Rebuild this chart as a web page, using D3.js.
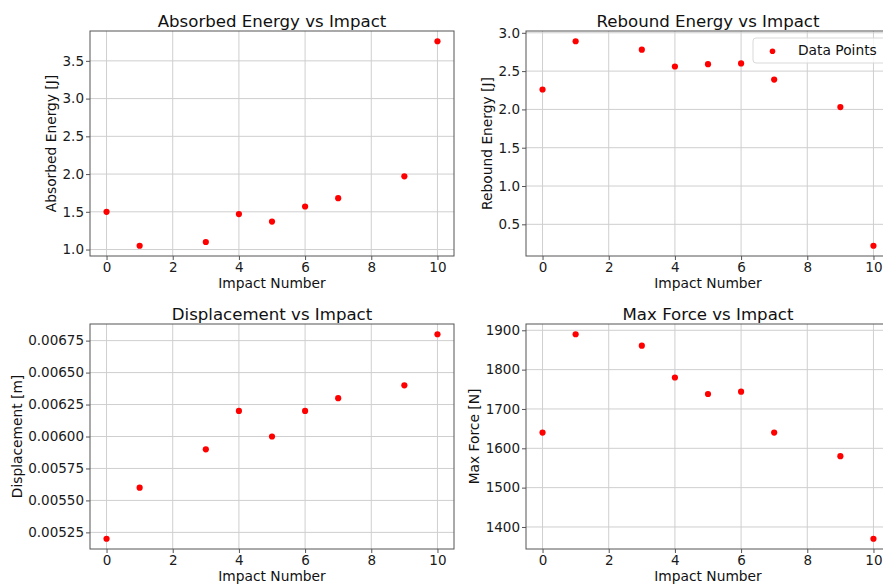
<!DOCTYPE html>
<html>
<head>
<meta charset="utf-8">
<script src="https://cdn.jsdelivr.net/npm/d3@7"></script>
<style>
  body { margin: 0; background: #fff; }
  svg { display: block; font-family: "DejaVu Sans", sans-serif; }
</style>
</head>
<body>
<svg id="chart" width="883" height="584"></svg>
<script>
// data
var impacts = [0, 1, 3, 4, 5, 6, 7, 9, 10];
var absorbedEnergy = [1.50, 1.05, 1.10, 1.47, 1.37, 1.57, 1.68, 1.97, 3.76];
var reboundEnergy = [2.26, 2.89, 2.78, 2.56, 2.59, 2.60, 2.39, 2.03, 0.22];
var displacement = [0.0052, 0.0056, 0.0059, 0.0062, 0.0060, 0.0062, 0.0063, 0.0064, 0.0068];
var maxForce = [1640, 1890, 1861, 1780, 1738, 1744, 1640, 1580, 1370];

var xTicks = [0, 2, 4, 6, 8, 10];
var absorbedTicks = [1.0, 1.5, 2.0, 2.5, 3.0, 3.5];
var reboundTicks = [0.5, 1.0, 1.5, 2.0, 2.5, 3.0];
var displacementTicks = [0.00525, 0.00550, 0.00575, 0.00600, 0.00625, 0.00650, 0.00675];
var forceTicks = [1400, 1500, 1600, 1700, 1800, 1900];

var panels = [
  {title: "Absorbed Energy vs Impact", ylabel: "Absorbed Energy [J]", values: absorbedEnergy, ticks: absorbedTicks, fmt: d3.format(".1f"), col: 0, row: 0},
  {title: "Rebound Energy vs Impact", ylabel: "Rebound Energy [J]", values: reboundEnergy, ticks: reboundTicks, fmt: d3.format(".1f"), col: 1, row: 0, legend: true},
  {title: "Displacement vs Impact", ylabel: "Displacement [m]", values: displacement, ticks: displacementTicks, fmt: d3.format(".5f"), col: 0, row: 1},
  {title: "Max Force vs Impact", ylabel: "Max Force [N]", values: maxForce, ticks: forceTicks, fmt: d3.format("d"), col: 1, row: 1}
];

var colX = [90, 526], rowY = [31, 324];
var w = 364, h = 225;
var tickFont = 13.5, labelFont = 13.8, titleFont = 16.6;

var svg = d3.select("#chart");

// matplotlib style 5% margins
function padded(ext) {
  var m = (ext[1] - ext[0]) * 0.05;
  return [ext[0] - m, ext[1] + m];
}

panels.forEach(function(p) {
  var g = svg.append("g")
    .attr("transform", "translate(" + colX[p.col] + "," + rowY[p.row] + ")");

  var x = d3.scaleLinear().domain(padded(d3.extent(impacts))).range([0, w]);
  var y = d3.scaleLinear().domain(padded(d3.extent(p.values))).range([h, 0]);

  // grid
  g.append("g").selectAll("line")
    .data(xTicks).enter().append("line")
      .attr("x1", function(d){ return x(d) }).attr("x2", function(d){ return x(d) })
      .attr("y1", 0).attr("y2", h)
      .attr("stroke", "#cfcfcf").attr("stroke-width", 1);
  g.append("g").selectAll("line")
    .data(p.ticks).enter().append("line")
      .attr("y1", function(d){ return y(d) }).attr("y2", function(d){ return y(d) })
      .attr("x1", 0).attr("x2", w)
      .attr("stroke", "#cfcfcf").attr("stroke-width", 1);

  // axes
  var xa = g.append("g")
    .attr("transform", "translate(0," + h + ")")
    .call(d3.axisBottom(x).tickValues(xTicks).tickSize(4).tickPadding(2).tickFormat(d3.format("d")));
  var ya = g.append("g")
    .call(d3.axisLeft(y).tickValues(p.ticks).tickSize(4).tickPadding(2).tickFormat(p.fmt));

  [xa, ya].forEach(function(a) {
    a.select(".domain").remove();
    a.selectAll(".tick line").attr("stroke", "#555");
    a.selectAll("text").attr("font-size", tickFont).attr("fill", "#1a1a1a")
      .attr("font-family", "DejaVu Sans");
  });

  // frame
  g.append("rect")
    .attr("width", w).attr("height", h)
    .attr("fill", "none").attr("stroke", "#555").attr("stroke-width", 1);

  // points
  g.append("g").selectAll("circle")
    .data(impacts).enter().append("circle")
      .attr("cx", function(d){ return x(d) })
      .attr("cy", function(d, i){ return y(p.values[i]) })
      .attr("r", 3.1)
      .attr("fill", "red");

  // title + labels
  g.append("text")
    .attr("x", w / 2).attr("y", -4.5)
    .attr("text-anchor", "middle")
    .attr("font-size", titleFont).attr("fill", "#111")
    .text(p.title);

  g.append("text")
    .attr("x", w / 2).attr("y", h + 32.3)
    .attr("text-anchor", "middle")
    .attr("font-size", labelFont).attr("fill", "#111")
    .text("Impact Number");

  var minX = d3.min(ya.selectAll("text").nodes(), function(n){ return n.getBBox().x });
  g.append("text")
    .attr("transform", "translate(" + (minX - 11.5) + "," + (h / 2) + ") rotate(-90)")
    .attr("text-anchor", "middle")
    .attr("dy", "0.35em")
    .attr("font-size", labelFont).attr("fill", "#111")
    .text(p.ylabel);

  if (p.legend) {
    var lg = g.append("g").attr("transform", "translate(" + (w - 137) + ",7)");
    lg.append("rect")
      .attr("width", 150).attr("height", 25).attr("rx", 3)
      .attr("fill", "white").attr("fill-opacity", 0.8)
      .attr("stroke", "#d9d9d9");
    lg.append("circle").attr("cx", 19.5).attr("cy", 13.3).attr("r", 2.8).attr("fill", "red");
    lg.append("text").attr("x", 45).attr("y", 16.9)
      .attr("font-size", labelFont).attr("fill", "#111")
      .text("Data Points");
  }
});
</script>
</body>
</html>
